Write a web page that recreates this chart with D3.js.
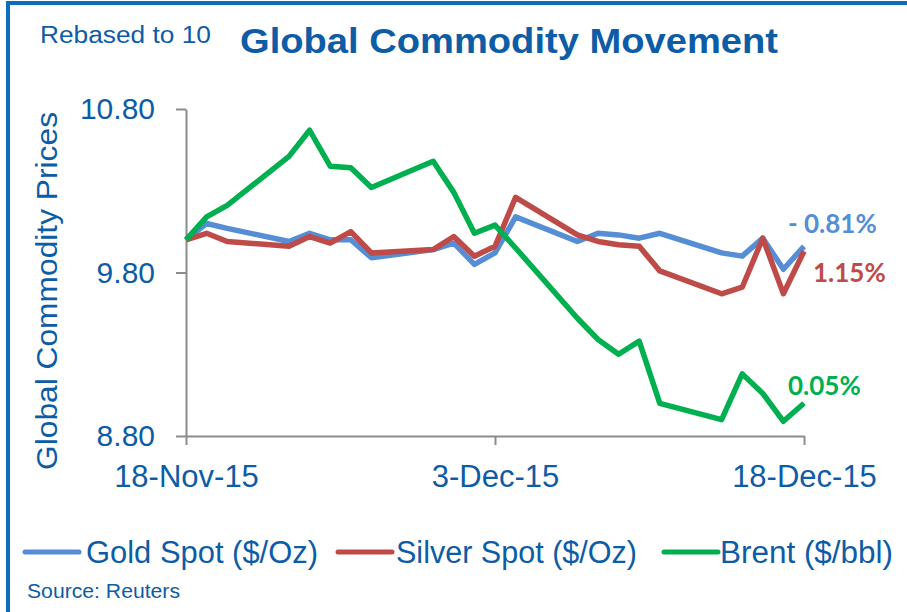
<!DOCTYPE html>
<html lang="en">
<head>
  <meta charset="UTF-8">
  <title>Global Commodity Movement</title>
  <script src="https://d3js.org/d3.v7.min.js"></script>
  <style>
    body {
      margin: 0;
      background: #fff;
      font-family: "Liberation Sans", Arial, sans-serif;
    }
    svg { display: block; }
  </style>
</head>
<body>
  <svg id="chart" width="907" height="612"></svg>
  <script>
    // Trading days, values rebased to 10
    const dates = [
      "2015-11-18", "2015-11-19", "2015-11-20", "2015-11-23", "2015-11-24", "2015-11-25",
      "2015-11-26", "2015-11-27", "2015-11-30", "2015-12-01", "2015-12-02", "2015-12-03",
      "2015-12-04", "2015-12-07", "2015-12-08", "2015-12-09", "2015-12-10", "2015-12-11",
      "2015-12-14", "2015-12-15", "2015-12-16", "2015-12-17", "2015-12-18"
    ];
    const gold = [10.00, 10.10, 10.07, 9.99, 10.04, 10.00, 10.00, 9.89, 9.94, 9.98, 9.85, 9.92,
                  10.14, 9.99, 10.04, 10.03, 10.01, 10.04, 9.92, 9.90, 10.01, 9.82, 9.96];
    const silver = [10.00, 10.04, 9.99, 9.96, 10.02, 9.98, 10.05, 9.92, 9.94, 10.02, 9.90, 9.96,
                    10.26, 10.03, 9.99, 9.97, 9.96, 9.81, 9.67, 9.71, 10.01, 9.67, 9.93];
    const brent = [10.00, 10.14, 10.21, 10.51, 10.67, 10.45, 10.44, 10.32, 10.48, 10.29, 10.04, 10.09,
                   9.95, 9.52, 9.39, 9.30, 9.38, 9.00, 8.90, 9.18, 9.06, 8.89, 9.00];

    const seriesNames = ["Gold Spot ($/Oz)", "Silver Spot ($/Oz)", "Brent ($/bbl)"];
    const seriesColors = ["#558ed5", "#be4b48", "#00b050"];
    const endLabels = ["- 0.81%", "1.15%", "0.05%"];
    const yTicks = [8.8, 9.8, 10.8];
    const xTicks = ["2015-11-18", "2015-12-03", "2015-12-18"];

    const parse = d3.timeParse("%Y-%m-%d");
    const textBlue = "#0d5ca6";
    const axisGrey = "#8c8c8c";

    const svg = d3.select("#chart");

    // frame: left and top rule
    svg.append("rect").attr("x", 6).attr("y", 1).attr("width", 901).attr("height", 4).attr("fill", "#0e6bbd");
    svg.append("rect").attr("x", 6).attr("y", 1).attr("width", 4).attr("height", 611).attr("fill", "#0e6bbd");

    const x = d3.scaleTime()
      .domain([parse(dates[0]), parse(dates[dates.length - 1])])
      .range([186, 804]);
    const y = d3.scaleLinear()
      .domain([8.8, 10.8])
      .range([436, 109]);

    // titles
    svg.append("text")
      .attr("x", 40).attr("y", 43)
      .attr("font-size", 23).attr("fill", textBlue)
      .attr("textLength", 171).attr("lengthAdjust", "spacingAndGlyphs")
      .text("Rebased to 10");
    svg.append("text")
      .attr("x", 240).attr("y", 53)
      .attr("font-size", 35).attr("font-weight", "bold").attr("fill", textBlue)
      .attr("textLength", 538).attr("lengthAdjust", "spacingAndGlyphs")
      .text("Global Commodity Movement");

    svg.append("text")
      .attr("transform", "translate(57,291) rotate(-90)")
      .attr("text-anchor", "middle")
      .attr("font-size", 29).attr("fill", textBlue)
      .attr("textLength", 358).attr("lengthAdjust", "spacingAndGlyphs")
      .text("Global Commodity Prices");

    // axes
    const yAxis = svg.append("g")
      .attr("transform", "translate(186,0)")
      .call(d3.axisLeft(y).tickValues(yTicks).tickFormat(d3.format(".2f"))
        .tickSize(10).tickSizeOuter(0).tickPadding(21));
    const xAxis = svg.append("g")
      .attr("transform", "translate(0,436)")
      .call(d3.axisBottom(x).tickValues(xTicks.map(parse)).tickFormat(d3.timeFormat("%-d-%b-%y"))
        .tickSize(9).tickSizeOuter(0).tickPadding(20));

    [yAxis, xAxis].forEach(a => {
      a.select(".domain").attr("stroke", axisGrey).attr("stroke-width", 2);
      a.selectAll(".tick line").attr("stroke", axisGrey).attr("stroke-width", 2);
      a.selectAll(".tick text")
        .attr("fill", textBlue)
        .attr("font-family", "'Liberation Sans', Arial, sans-serif");
    });
    yAxis.selectAll(".tick text").attr("font-size", 30);
    xAxis.selectAll(".tick text").attr("font-size", 31);

    // lines
    const line = d3.line()
      .x(d => x(d.date))
      .y(d => y(d.value));

    [gold, silver, brent].forEach((vals, i) => {
      const pts = vals.map((v, j) => ({ date: parse(dates[j]), value: v }));
      svg.append("path")
        .datum(pts)
        .attr("fill", "none")
        .attr("stroke", seriesColors[i])
        .attr("stroke-width", 5.5)
        .attr("stroke-linejoin", "round")
        .attr("d", line);
    });

    // end-of-line change labels
    const labelPos = [[788, 233], [813, 282], [788, 395]];
    endLabels.forEach((t, i) => {
      svg.append("text")
        .attr("x", labelPos[i][0]).attr("y", labelPos[i][1])
        .attr("font-family", "Lato, 'Open Sans', sans-serif")
        .attr("font-weight", "bold").attr("font-size", 26)
        .attr("fill", seriesColors[i])
        .text(t);
    });

    // legend
    const legendItems = [
      { lx: 25, tx: 86, w: 232 },
      { lx: 338, tx: 396, w: 241 },
      { lx: 664, tx: 720, w: 173 }
    ];
    legendItems.forEach((p, i) => {
      svg.append("line")
        .attr("x1", p.lx).attr("x2", p.lx + 54)
        .attr("y1", 552).attr("y2", 552)
        .attr("stroke", seriesColors[i]).attr("stroke-width", 5)
        .attr("stroke-linecap", "round");
      svg.append("text")
        .attr("x", p.tx).attr("y", 563)
        .attr("font-size", 31).attr("fill", textBlue)
        .attr("textLength", p.w).attr("lengthAdjust", "spacingAndGlyphs")
        .text(seriesNames[i]);
    });

    svg.append("text")
      .attr("x", 27).attr("y", 598)
      .attr("font-size", 20).attr("fill", textBlue)
      .attr("textLength", 153).attr("lengthAdjust", "spacingAndGlyphs")
      .text("Source: Reuters");
  </script>
</body>
</html>
